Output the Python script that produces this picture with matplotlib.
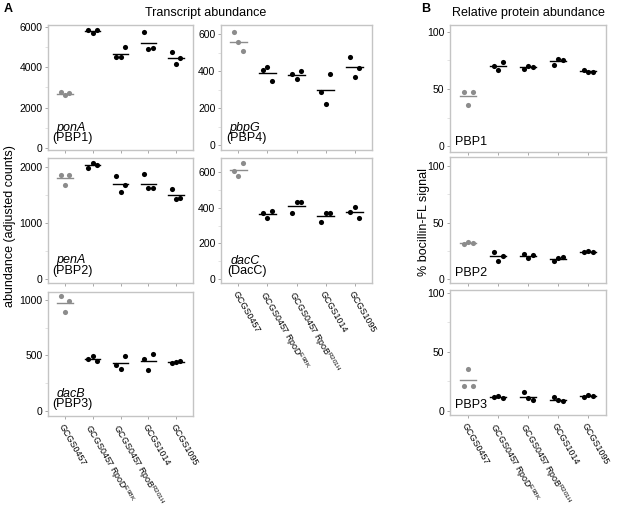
import numpy as np
import matplotlib
matplotlib.use("Agg")
import matplotlib.pyplot as plt
from matplotlib.ticker import MultipleLocator

plt.rcParams["font.family"] = ["Liberation Sans", "DejaVu Sans"]
plt.rcParams["mathtext.fontset"] = "custom"
plt.rcParams["mathtext.rm"] = "Liberation Sans"

strains = [
    "GCGS0457",
    "GCGS0457 RpoD$^{\\mathrm{E98K}}$",
    "GCGS0457 RpoB$^{\\mathrm{R201H}}$",
    "GCGS1014",
    "GCGS1095",
]

# transcript abundance (adjusted counts), three replicates per strain
ponA = [[2760, 2600, 2720], [5850, 5700, 5850], [4480, 4480, 4990],
        [5750, 4880, 4960], [4730, 4130, 4450]]
penA = [[1860, 1670, 1860], [1980, 2070, 2040], [1830, 1560, 1670],
        [1870, 1620, 1620], [1600, 1420, 1450]]
dacB = [[1030, 892, 990], [470, 494, 449], [413, 375, 494],
        [464, 366, 509], [429, 445, 450]]
pbpG = [[612, 555, 508], [405, 420, 348], [384, 357, 400],
        [284, 222, 384], [474, 370, 416]]
dacC = [[607, 579, 649], [368, 340, 383], [368, 433, 433],
        [322, 368, 368], [374, 404, 343]]

# relative protein abundance (% bocillin-FL signal)
pbp1 = [[47.7, 36.0, 47.7], [70.2, 66.7, 73.4], [67.5, 70.5, 69.5],
        [71.0, 76.5, 75.5], [66.7, 64.7, 65.0]]
pbp2 = [[30.7, 33.0, 32.0], [24.2, 16.2, 20.4], [22.0, 18.3, 21.2],
        [16.2, 18.3, 19.7], [23.6, 24.5, 23.6]]
pbp3 = [[21.3, 35.3, 21.3], [12.0, 12.9, 10.9], [15.7, 10.9, 9.5],
        [11.5, 9.0, 8.2], [12.0, 13.7, 12.9]]

W, H = 617, 509
fig = plt.figure(figsize=(W / 100, H / 100), dpi=100)


def add_panel(box, values, ylim, major, name, sub=None, xlabels=False):
    x0, x1, y0, y1 = box
    ax = fig.add_axes([x0 / W, 1 - y1 / H, (x1 - x0) / W, (y1 - y0) / H])
    offsets = [-0.15, 0.0, 0.15]
    for i, reps in enumerate(values):
        color = "#8c8c8c" if i == 0 else "black"
        xs = [i + 1 + o for o in offsets]
        ax.plot(xs, reps, "o", color=color, ms=3.7, mec="none")
        m = np.mean(reps)
        ax.plot([i + 1 - 0.28, i + 1 + 0.28], [m, m], color=color, lw=1.0)
    ax.set_xlim(0.4, 5.6)
    ax.set_ylim(*ylim)
    ax.yaxis.set_major_locator(MultipleLocator(major))
    ax.yaxis.set_minor_locator(MultipleLocator(major / 2))
    ax.set_xticks(range(1, 6))
    for s in ax.spines.values():
        s.set_color("#c4c4c4")
        s.set_linewidth(1.0)
    ax.tick_params(axis="both", which="major", length=2.5, width=0.6,
                   color="#9a9a9a", labelsize=7.5, pad=1.5)
    ax.tick_params(axis="y", which="minor", length=2.5, width=0.5,
                   color="#d8d8d8")
    if xlabels:
        ax.set_xticklabels(strains, rotation=-60, ha="left",
                           va="top", rotation_mode="anchor", fontsize=6.4)
        ax.tick_params(axis="x", pad=2)
    else:
        ax.set_xticklabels([])
    if sub is None:
        ax.text(0.03, 0.08, name, transform=ax.transAxes, fontsize=9,
                ha="left", va="center")
    else:
        ax.text(0.16, 0.18, name, transform=ax.transAxes, fontsize=9,
                style="italic", ha="center", va="center")
        ax.text(0.17, 0.095, sub, transform=ax.transAxes, fontsize=9,
                ha="center", va="center")
    return ax


add_panel((48, 193, 25, 150), ponA, (-100, 6080), 2000, "ponA", "(PBP1)")
add_panel((48, 193, 158, 283), penA, (-75, 2160), 1000, "penA", "(PBP2)")
add_panel((48, 193, 292, 416), dacB, (-45, 1070), 500, "dacB", "(PBP3)",
          xlabels=True)
add_panel((221, 372, 25, 150), pbpG, (-27, 649), 200, "pbpG", "(PBP4)")
add_panel((221, 372, 158, 283), dacC, (-22, 678), 200, "dacC", "(DacC)",
          xlabels=True)
add_panel((450, 606, 25, 152), pbp1, (-5, 106), 50, "PBP1")
add_panel((450, 606, 157, 283), pbp2, (-3.5, 108), 50, "PBP2")
add_panel((450, 606, 290, 415), pbp3, (-3.4, 102.5), 50, "PBP3",
          xlabels=True)

fig.text(4 / W, 1 - 9 / H, "A", fontsize=9, fontweight="bold",
         ha="left", va="center")
fig.text(421 / W, 1 - 9 / H, "B", fontsize=9, fontweight="bold",
         ha="left", va="center")
fig.text(206 / W, 1 - 13 / H, "Transcript abundance", fontsize=9,
         ha="center", va="center")
fig.text(528 / W, 1 - 13 / H, "Relative protein abundance", fontsize=9,
         ha="center", va="center")
fig.text(10 / W, 1 - 226 / H, "abundance (adjusted counts)", fontsize=9,
         rotation=90, ha="center", va="center")
fig.text(424 / W, 1 - 222 / H, "% bocillin-FL signal", fontsize=9,
         rotation=90, ha="center", va="center")

fig.savefig("out.png", dpi=100)
